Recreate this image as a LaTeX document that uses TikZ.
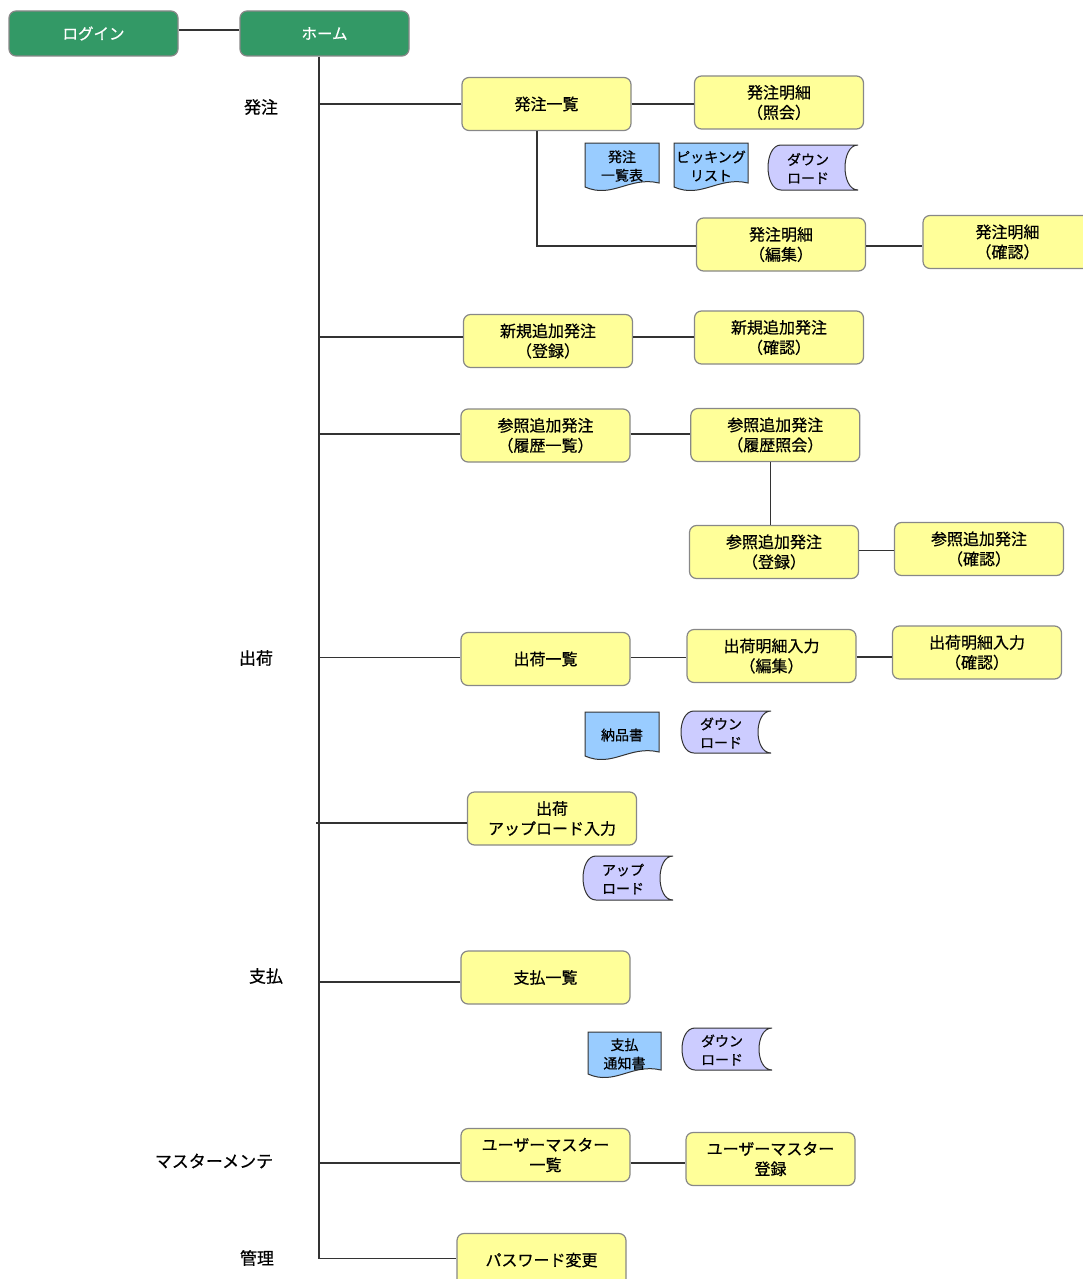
\documentclass[tikz,border=0pt]{standalone}
\usepackage{fontspec}
\setmainfont[FakeBold=0.6]{Noto Sans CJK JP}
\definecolor{grn}{RGB}{51,153,102}
\definecolor{yel}{RGB}{255,255,153}
\definecolor{bxg}{RGB}{136,136,136}
\definecolor{blu}{RGB}{153,204,255}
\definecolor{lav}{RGB}{204,204,255}
\definecolor{lnc}{RGB}{51,51,51}
\tikzset{
  ybox/.style={draw=bxg, fill=yel, rounded corners=7pt, minimum width=169pt, minimum height=53pt,
    line width=1.2pt, align=center, inner sep=0pt, font=\fontsize{16}{20}\selectfont},
  gbox/.style={draw=bxg, fill=grn, rounded corners=7pt, minimum width=169pt, minimum height=45pt,
    line width=1.2pt, align=center, inner sep=0pt, text=white, font=\fontsize{15.5}{20}\selectfont},
  sec/.style={inner sep=0pt, font=\fontsize{17}{20}\selectfont},
  smalltext/.style={inner sep=0pt, align=center, font=\fontsize{14}{18.5}\selectfont},
  docshape/.style={draw=lnc, fill=blu, line width=1pt},
  storeshape/.style={draw=lnc, fill=lav, line width=1pt},
  conn/.style={draw=lnc, line width=1.3pt}
}
\newcommand\mkdoc[6]{%
  \draw[docshape] (#2,#3) -- (#4,#3) -- (#4,{#5-4}) .. controls ({#2+0.6*(#4-#2)},{#5-11}) and ({#2+0.37*(#4-#2)},{#5+12}) .. (#2,#5) -- cycle;
  \node[smalltext] (#1) at ({(#2+#4)/2},{(#3+#5)/2+1}) {#6};}
\newcommand\mkstore[6]{%
  \draw[storeshape] ({#2+13},#3) -- (#4,#3) .. controls ({#4-17.3},#3) and ({#4-17.3},#5) .. (#4,#5) -- ({#2+13},#5) .. controls ({#2-4.3},#5) and ({#2-4.3},#3) .. ({#2+13},#3) -- cycle;
  \node[smalltext] (#1) at ({(#2+#4)/2-5},{(#3+#5)/2+1}) {#6};}
\begin{document}
\begin{tikzpicture}[x=1pt,y=-1pt]
\clip (0,0) rectangle (1083,1279);
\fill[white] (0,0) rectangle (1083,1279);
% top
\node[gbox] (login) at (93.5,33.5) {ログイン};
\node[gbox] (home) at (324.5,33.5) {ホーム};
% section labels
\node[sec] (l1) at (261,107) {発注};
\node[sec] (l2) at (256,658) {出荷};
\node[sec] (l3) at (266,976) {支払};
\node[sec] (l4) at (214,1161) {マスターメンテ};
\node[sec] (l5) at (257,1258) {管理};
% boxes
\node[ybox] (hl) at (546.5,104) {発注一覧};
\node[ybox] (hs) at (779,102.5) {発注明細\\（照会）};
\node[ybox] (he) at (781,244.5) {発注明細\\（編集）};
\node[ybox] (hc) at (1007.5,242) {発注明細\\（確認）};
\node[ybox] (nr) at (548,341) {新規追加発注\\（登録）};
\node[ybox] (nc) at (779,337.5) {新規追加発注\\（確認）};
\node[ybox] (rl) at (545.5,435.5) {参照追加発注\\（履歴一覧）};
\node[ybox] (rs) at (775.3,435) {参照追加発注\\（履歴照会）};
\node[ybox] (rr) at (774,552) {参照追加発注\\（登録）};
\node[ybox] (rc) at (979,549) {参照追加発注\\（確認）};
\node[ybox] (sl) at (545.5,659) {出荷一覧};
\node[ybox] (se) at (771.5,656) {出荷明細入力\\（編集）};
\node[ybox] (sc) at (977,652.5) {出荷明細入力\\（確認）};
\node[ybox] (su) at (552,818.5) {出荷\\アップロード入力};
\node[ybox] (pl) at (545.5,977.5) {支払一覧};
\node[ybox] (ul) at (545.5,1155) {ユーザーマスター\\一覧};
\node[ybox] (ur) at (770.5,1159) {ユーザーマスター\\登録};
\node[ybox] (pw) at (541.5,1260) {パスワード変更};
% documents
\mkdoc{d1}{585}{143}{659}{187}{発注\\一覧表}
\mkdoc{d2}{674}{143}{748}{187}{ピッキング\\リスト}
\mkdoc{d3}{585}{712}{659}{756}{納品書}
\mkdoc{d4}{588}{1032}{661}{1074}{支払\\通知書}
% stored data
\mkstore{s1}{768}{145}{858}{190}{ダウン\\ロード}
\mkstore{s2}{681}{711}{771}{753}{ダウン\\ロード}
\mkstore{s3}{583}{856}{673}{900}{アップ\\ロード}
\mkstore{s4}{682}{1028}{772}{1070}{ダウン\\ロード}
% connectors
\draw[conn] ([yshift=3.5pt]login.east) -- ([yshift=3.5pt]home.west);
\coordinate (T) at ([xshift=-5.5pt]home.south);
\draw[conn] (T) |- ([yshift=1.5pt]pw.west);
\draw[conn] (hl.west) -- (hl.west -| T);
\draw[conn] (hl.east) -- (hl.east -| hs.west);
\draw[conn] ([xshift=-9.5pt]hl.south) |- ([yshift=-1.5pt]he.west);
\draw[conn] ([yshift=-1.5pt]he.east) -- ([yshift=-1.5pt]he.east -| hc.west);
\draw[conn] ([yshift=4pt]nr.west) -- ([yshift=4pt]nr.west -| T);
\draw[conn] ([yshift=4pt]nr.east) -- ([yshift=4pt]nr.east -| nc.west);
\draw[conn] ([yshift=1.5pt]rl.west) -- ([yshift=1.5pt]rl.west -| T);
\draw[conn] ([yshift=1.5pt]rl.east) -- ([yshift=1.5pt]rl.east -| rs.west);
\draw[conn] ([xshift=-4.5pt]rs.south) -- ([xshift=-4.5pt]rs.south |- rr.north);
\draw[conn] ([yshift=1.5pt]rr.east) -- ([yshift=1.5pt]rr.east -| rc.west);
\draw[conn] ([yshift=1.5pt]sl.west) -- ([yshift=1.5pt]sl.west -| T);
\draw[conn] ([yshift=1.5pt]sl.east) -- ([yshift=1.5pt]sl.east -| se.west);
\draw[conn] ([yshift=-1pt]se.east) -- ([yshift=-1pt]se.east -| sc.west);
\draw[conn] ([yshift=-4.5pt]su.west) -- ([yshift=-4.5pt,xshift=-3pt]su.west -| T);
\draw[conn] ([yshift=-4.5pt]pl.west) -- ([yshift=-4.5pt]pl.west -| T);
\draw[conn] ([yshift=-8pt]ul.west) -- ([yshift=-8pt]ul.west -| T);
\draw[conn] ([yshift=-8pt]ul.east) -- ([yshift=-8pt]ul.east -| ur.west);
\end{tikzpicture}
\end{document}
